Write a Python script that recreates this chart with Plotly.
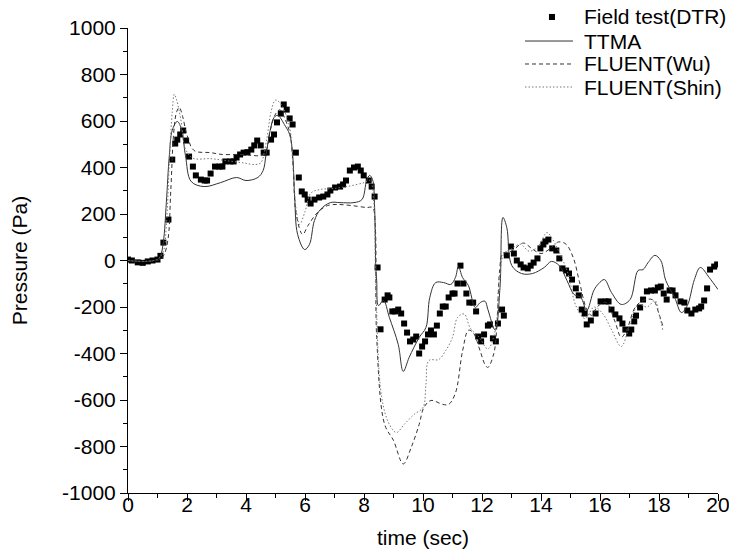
import plotly.graph_objects as go

# Field test (DTR) points
field_t = [0.0, 0.13, 0.33, 0.5, 0.67, 0.83, 1.0, 1.1, 1.2, 1.37, 1.5, 1.6, 1.67, 1.77, 1.87, 1.97,
           2.07, 2.2, 2.3, 2.47, 2.6, 2.68, 2.8, 2.95, 3.1, 3.2, 3.3, 3.47, 3.58, 3.68, 3.8, 3.92,
           4.05, 4.18, 4.28, 4.38, 4.5, 4.6, 4.7, 4.85, 4.95, 5.05, 5.18, 5.28, 5.38, 5.48, 5.58,
           5.69, 5.79, 5.89, 5.99, 6.09, 6.19, 6.32, 6.48, 6.62, 6.76, 6.86, 7.02, 7.19, 7.29, 7.39,
           7.52, 7.66, 7.79, 7.89, 7.99, 8.16, 8.26, 8.36, 8.46, 8.56, 8.7, 8.8, 8.86, 8.96, 9.06,
           9.16, 9.26, 9.36, 9.46, 9.56, 9.67, 9.77, 9.87, 9.97, 10.07, 10.17, 10.27, 10.37, 10.47,
           10.57, 10.67, 10.77, 10.87, 11.0, 11.07, 11.17, 11.27, 11.37, 11.47, 11.57, 11.7, 11.8,
           11.87, 11.97, 12.07, 12.2, 12.27, 12.37, 12.47, 12.54, 12.68, 12.74, 12.84, 12.98, 13.08,
           13.18, 13.31, 13.41, 13.55, 13.65, 13.75, 13.88, 13.98, 14.08, 14.15, 14.25, 14.38, 14.52,
           14.62, 14.72, 14.85, 14.95, 15.05, 15.18, 15.28, 15.38, 15.48, 15.55, 15.69, 15.85, 16.02,
           16.19, 16.29, 16.39, 16.52, 16.66, 16.76, 16.86, 16.99, 17.06, 17.16, 17.22, 17.36, 17.46,
           17.59, 17.73, 17.86, 17.96, 18.06, 18.16, 18.26, 18.36, 18.46, 18.56, 18.73, 18.86, 18.96,
           19.1, 19.23, 19.36, 19.43, 19.53, 19.63, 19.73, 19.87, 19.97]
field_p = [4, 0, -8, -10, -4, 0, 4, 20, 77, 176, 434, 503, 520, 542, 559, 516, 447,
           404, 366, 348, 344, 344, 374, 404, 404, 404, 426, 426, 426, 443, 456, 464, 466,
           477, 495, 516, 495, 464, 464, 520, 542, 594, 632, 671, 649, 611, 585, 464,
           357, 297, 284, 262, 245, 262, 271, 275, 284, 301, 314, 318, 327, 344, 387,
           400, 404, 387, 366, 344, 318, 275, -30, -296, -168, -150, -159, -219, -219, -211,
           -228, -271, -310, -348, -340, -327, -400, -370, -348, -318, -301, -318, -280, -228,
           -198, -198, -159, -142, -142, -99, -22, -99, -142, -181, -181, -219, -327, -348,
           -318, -280, -275, -335, -348, -271, -211, -237, 22, 60, 30, 0, -17,
           -30, -34, -22, -9, 9, 52, 69, 82, 90, 52, 43, 9, -34,
           -43, -56, -82, -120, -150, -211, -228, -275, -258, -228, -176, -176, -176,
           -211, -232, -249, -271, -297, -314, -297, -262, -237, -202, -168, -133, -129,
           -129, -116, -112, -142, -168, -129, -129, -150, -176, -181, -215, -228, -211,
           -206, -198, -172, -120, -39, -26, -17, -9, 4]

# TTMA
ttma_t = [0, 0.5, 1.0, 1.1, 1.2, 1.3, 1.4, 1.5, 1.67, 1.8, 1.95, 2.14, 2.58, 3.14, 3.68, 4.0,
          4.4, 4.58, 4.68, 4.82, 4.95, 5.08, 5.3, 5.48, 5.58, 5.65, 5.75, 5.99, 6.15, 6.32, 6.52,
          6.86, 7.19, 7.66, 7.93, 8.09, 8.19, 8.29, 8.36, 8.4, 8.43, 8.49, 8.66, 8.86, 9.16, 9.33,
          9.53, 9.87, 10.1, 10.23, 10.43, 10.7, 10.94, 11.1, 11.2, 11.34, 11.54, 11.77, 11.94, 12.1,
          12.2, 12.45, 12.61, 12.71, 12.84, 13.01, 13.34, 13.71, 14.11, 14.35, 14.62, 14.88, 15.12,
          15.35, 15.55, 15.79, 15.95, 16.15, 16.39, 16.72, 17.02, 17.29, 17.46, 17.63, 17.86, 18.06,
          18.23, 18.53, 18.76, 18.96, 19.2, 19.4, 19.7, 20.0]
ttma_p = [0, -5, 5, 20, 80, 250, 450, 560, 598, 570, 450, 340, 318, 335, 357, 344,
          357, 387, 456, 559, 615, 624, 585, 542, 456, 271, 112, 47, 69, 172, 219,
          249, 249, 249, 262, 344, 366, 348, 228, -30, -86, -194, -172, -245, -361, -477,
          -417, -331, -288, -159, -95, -95, -103, -73, -26, -73, -108, -202, -181, -175,
          -211, -300, -116, 185, 142, -22, -56, -56, -30, -4, -22, -86, -146,
          -159, -215, -129, -100, -82, -138, -189, -168, -43, -39, -9, 22, 0,
          -86, -159, -224, -194, -82, -30, -73, -125]

# FLUENT (Wu)
wu_t = [0, 1.0, 1.2, 1.35, 1.45, 1.55, 1.65, 1.74, 1.85, 2.0, 2.24, 2.8, 3.2, 3.8, 4.2, 4.48,
        4.68, 4.82, 5.0, 5.15, 5.35, 5.5, 5.6, 5.7, 5.92, 6.1, 6.42, 6.76, 7.1, 7.6, 8.09, 8.29,
        8.38, 8.43, 8.7, 9.0, 9.33, 9.6, 9.87, 10.03, 10.27, 10.67, 10.87, 11.1, 11.34, 11.54,
        11.7, 11.94, 12.1, 12.2, 12.4, 12.5, 12.6, 12.7, 13.0, 13.4, 13.7, 14.0, 14.3, 14.6,
        14.85, 15.1, 15.3, 15.55, 15.72, 15.9, 16.2, 16.5, 16.72, 16.9, 17.2, 17.5, 17.8, 18.0,
        18.15]
wu_p = [0, 0, 20, 86, 300, 550, 640, 658, 620, 540, 473, 464, 456, 456, 452, 452,
        473, 559, 630, 648, 600, 540, 400, 200, 112, 150, 206, 236, 241, 236, 228, 228,
        150, -331, -705, -774, -875, -804, -705, -632, -602, -619, -619, -570, -390, -300,
        -310, -390, -447, -460, -400, -290, -40, 30, 40, 75, 50, 30, 50, 80,
        70, 10, -90, -210, -236, -200, -180, -260, -330, -300, -200, -170, -170, -230,
        -290]

# FLUENT (Shin)
shin_t = [0, 1.0, 1.2, 1.3, 1.4, 1.5, 1.57, 1.65, 1.8, 1.95, 2.2, 2.8, 3.3, 3.9, 4.3, 4.5,
          4.7, 4.85, 5.0, 5.2, 5.4, 5.5, 5.6, 5.7, 5.82, 6.0, 6.2, 6.5, 7.0, 7.5, 8.0, 8.2,
          8.33, 8.4, 8.6, 8.86, 9.1, 9.36, 9.7, 10.0, 10.1, 10.2, 10.53, 10.77, 11.0, 11.17,
          11.4, 11.6, 11.9, 12.2, 12.45, 12.6, 12.75, 13.0, 13.3, 13.6, 13.9, 14.2, 14.4, 14.6,
          14.9, 15.2, 15.5, 15.8, 16.1, 16.4, 16.72, 17.0, 17.3, 17.6, 17.86, 18.0, 18.13]
shin_p = [0, 5, 40, 150, 420, 640, 715, 690, 600, 480, 440, 438, 430, 420, 413, 420,
          520, 640, 690, 670, 610, 560, 400, 220, 155, 210, 290, 305, 310, 320, 335, 345,
          250, -100, -589, -705, -740, -705, -662, -632, -533, -430, -426, -387, -331, -245,
          -230, -290, -330, -380, -300, -60, 30, 50, 70, 40, 60, 120, 90, 40,
          -50, -200, -250, -200, -230, -300, -370, -280, -190, -200, -172, -230, -300]

# tick labels (plain hyphen for negatives, as in the original figure)
y_tickvals = [-1000, -800, -600, -400, -200, 0, 200, 400, 600, 800, 1000]
y_ticktext = ["-1000", "-800", "-600", "-400", "-200", "0", "200", "400", "600", "800", "1000"]

legend_names = ["Field test(DTR)", "TTMA", "FLUENT(Wu)", "FLUENT(Shin)"]

FONT = "Liberation Sans, Arial, sans-serif"
FS = 21

WU_DASH = "4px,3px"
SHIN_DASH = "1.5px,2px"

fig = go.Figure()
fig.add_trace(go.Scatter(x=field_t, y=field_p, mode="markers", name=legend_names[0],
                         marker=dict(symbol="square", size=6, color="black")))
fig.add_trace(go.Scatter(x=ttma_t, y=ttma_p, mode="lines", name=legend_names[1], line_shape="spline",
                         line=dict(color="#333333", width=1, dash="solid")))
fig.add_trace(go.Scatter(x=wu_t, y=wu_p, mode="lines", name=legend_names[2], line_shape="spline",
                         line=dict(color="#333333", width=1, dash=WU_DASH)))
fig.add_trace(go.Scatter(x=shin_t, y=shin_p, mode="lines", name=legend_names[3], line_shape="spline",
                         line=dict(color="#777777", width=1, dash=SHIN_DASH)))

# compact legend drawn by hand (plotly's own legend rows are too far apart)
row_y = [1.0237, 0.9720, 0.9226, 0.8731]
for name, yy in zip(legend_names, row_y):
    fig.add_annotation(xref="paper", yref="paper", x=0.7695, y=yy, text=name, showarrow=False,
                       xanchor="left", yanchor="middle", font=dict(family=FONT, size=FS))
fig.add_shape(type="rect", xref="paper", yref="paper", x0=0.7135, x1=0.7237,
              y0=row_y[0] - 0.0065, y1=row_y[0] + 0.0065, fillcolor="black", line_width=0)
for yy, dash, col in zip(row_y[1:], ["solid", WU_DASH, SHIN_DASH], ["#333333", "#333333", "#777777"]):
    fig.add_shape(type="line", xref="paper", yref="paper", x0=0.6729, x1=0.7542, y0=yy, y1=yy,
                  line=dict(color=col, width=1, dash=dash))

axis_common = dict(
    showgrid=False, zeroline=False, showline=True, linecolor="black", linewidth=1,
    ticks="outside", ticklen=7, tickcolor="black", tickwidth=1, automargin=False,
    ticklabeloverflow="allow",
    tickfont=dict(family=FONT, size=FS, color="black"),
)

# the page body has an 8px margin, so the figure is 8px smaller than the window
fig.update_layout(
    width=729, height=543,
    margin=dict(l=120, r=19, t=20, b=58, autoexpand=False),
    plot_bgcolor="white", paper_bgcolor="white",
    font=dict(family=FONT, size=FS, color="black"),
    xaxis=dict(range=[0, 20], dtick=2, tick0=0, ticklabelstandoff=-14,
               minor=dict(dtick=1, ticklen=4, ticks="outside", tickcolor="black"),
               title=dict(text="time (sec)", font=dict(family=FONT, size=FS), standoff=15),
               **axis_common),
    yaxis=dict(range=[-1000, 1000], tickvals=y_tickvals, ticktext=y_ticktext,
               minor=dict(tickvals=list(range(-900, 1000, 200)), ticklen=4, ticks="outside",
                          tickcolor="black"),
               title=dict(text="Pressure (Pa)", font=dict(family=FONT, size=FS), standoff=30),
               **axis_common),
    showlegend=False,
)

fig.write_html("out.html")
